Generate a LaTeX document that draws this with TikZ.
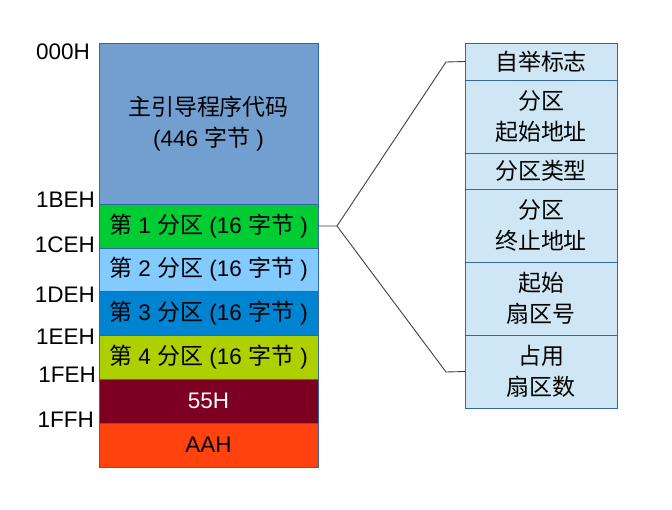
\documentclass[tikz,border=0pt]{standalone}
\usepackage{fontspec}
\setmainfont{Liberation Sans}
\newfontfamily\cjk[Scale=1.02]{Noto Sans CJK SC}
\usetikzlibrary{positioning}

\definecolor{bootblue}{HTML}{729FCF}
\definecolor{ptgreen}{HTML}{00CC33}
\definecolor{ptsky}{HTML}{83CAFF}
\definecolor{ptblue}{HTML}{0084D1}
\definecolor{ptlime}{HTML}{AECF00}
\definecolor{sigred}{HTML}{7E0021}
\definecolor{sigorange}{HTML}{FF420E}
\definecolor{entrypale}{HTML}{CFE7F5}
\definecolor{fieldline}{HTML}{3465A4}

\tikzset{
  field/.style={draw=fieldline, line width=1pt, inner sep=0pt, outer sep=0pt,
                align=center, text=black},
  mbrrow/.style={field, minimum width=219, minimum height=#1},
  entryrow/.style={field, fill=entrypale, minimum width=152, minimum height=#1},
  offset/.style={anchor=east, inner sep=0pt},
  link/.style={draw=black!75, line width=0.9pt}
}

\begin{document}
\begin{tikzpicture}[x=1pt,y=-1pt,font=\fontsize{22.5}{31}\selectfont]

  \useasboundingbox (0,0) rectangle (672,509);

  % MBR layout
  \node[mbrrow=161, fill=bootblue, anchor=north west] (boot) at (99,43)
       {{\cjk 主引导程序代码}\\(446 {\cjk 字节} )};
  \node[mbrrow=44, fill=ptgreen]   (P1)  [below=0pt of boot] {{\cjk 第} 1 {\cjk 分区} (16 {\cjk 字节} )};
  \node[mbrrow=43, fill=ptsky]     (P2)  [below=0pt of P1]   {{\cjk 第} 2 {\cjk 分区} (16 {\cjk 字节} )};
  \node[mbrrow=44, fill=ptblue]    (P3)  [below=0pt of P2]   {{\cjk 第} 3 {\cjk 分区} (16 {\cjk 字节} )};
  \node[mbrrow=44, fill=ptlime]    (P4)  [below=0pt of P3]   {{\cjk 第} 4 {\cjk 分区} (16 {\cjk 字节} )};
  \node[mbrrow=44, fill=sigred, text=white] (S1) [below=0pt of P4] {55H};
  \node[mbrrow=44, fill=sigorange] (S2)  [below=0pt of S1]   {AAH};

  % offsets
  \node[offset] (o000) at (90,52)  {000H};
  \node[offset] (o1BE) at (95,200) {1BEH};
  \node[offset] (o1CE) at (95,245) {1CEH};
  \node[offset] (o1DE) at (95,295) {1DEH};
  \node[offset] (o1EE) at (95,337) {1EEH};
  \node[offset] (o1FE) at (96,375) {1FEH};
  \node[offset] (o1FF) at (94,420) {1FFH};

  % partition entry
  \node[entryrow=37, anchor=north west] (flag) at (465,43) {{\cjk 自举标志}};
  \node[entryrow=73] (startaddr) [below=0pt of flag]      {{\cjk 分区}\\{\cjk 起始地址}};
  \node[entryrow=36] (ptype)     [below=0pt of startaddr] {{\cjk 分区类型}};
  \node[entryrow=73] (endaddr)   [below=0pt of ptype]     {{\cjk 分区}\\{\cjk 终止地址}};
  \node[entryrow=73] (startsec)  [below=0pt of endaddr]   {{\cjk 起始}\\{\cjk 扇区号}};
  \node[entryrow=73] (seccount)  [below=0pt of startsec]  {{\cjk 占用}\\{\cjk 扇区数}};

  \coordinate (fork)    at (337,226);
  \coordinate (upbend)  at (446,62);
  \coordinate (lowbend) at (446,372);

  \path[link] (P1.east) -- (fork)
              (fork) -- (upbend) -- (flag.west)
              (fork) -- (lowbend) -- (seccount.west);
\end{tikzpicture}
\end{document}
